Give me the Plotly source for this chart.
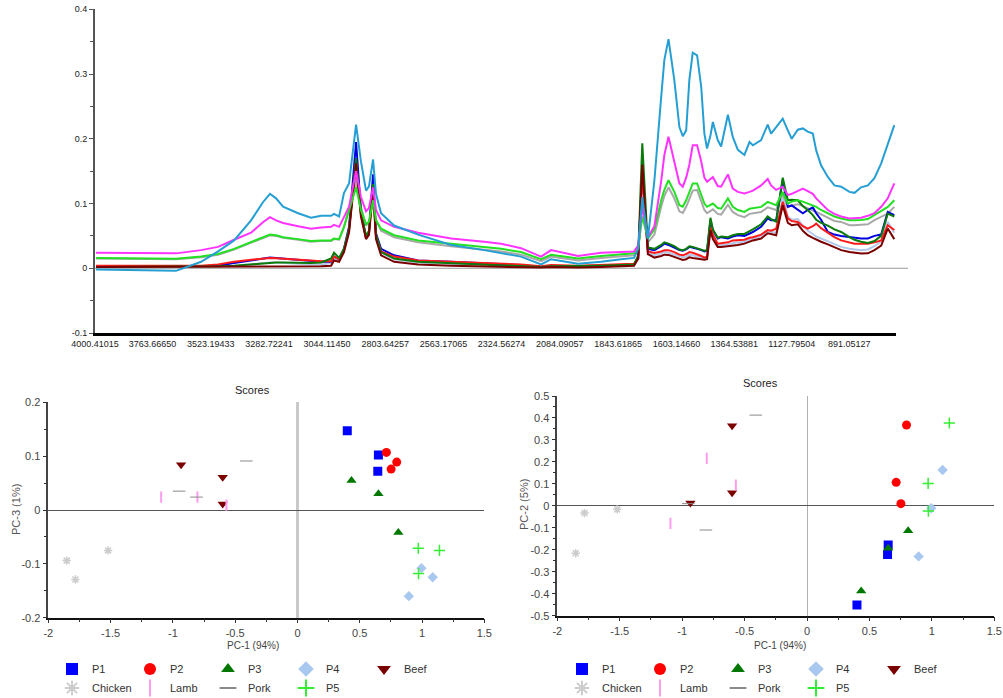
import plotly.graph_objects as go

# ---------------- Spectra (top panel) ----------------
wavenumbers = [3996, 3770, 3666, 3563, 3493, 3427, 3357, 3308, 3279, 3254,
               3225, 3163, 3110, 3068, 3027, 3015, 2994, 2974, 2953, 2924,
               2904, 2883, 2871, 2854, 2842, 2821, 2767, 2668, 2532, 2396,
               2326, 2244, 2161, 2120, 2009, 1914, 1831, 1778, 1761, 1744,
               1721, 1694, 1666, 1653, 1636, 1612, 1591, 1577, 1563, 1550,
               1536, 1518, 1501, 1488, 1477, 1463, 1453, 1433, 1419, 1391,
               1371, 1350, 1323, 1302, 1288, 1254, 1227, 1213, 1192, 1165,
               1144, 1128, 1103, 1082, 1062, 1041, 1027, 1007, 979, 952,
               924, 890, 869, 842, 814, 787, 759, 732, 705]

spec_cyan = [-0.002, -0.003, -0.004, 0.010, 0.026, 0.043, 0.074, 0.102, 0.115, 0.108,
             0.095, 0.085, 0.078, 0.081, 0.081, 0.084, 0.080, 0.116, 0.131, 0.222,
             0.165, 0.120, 0.126, 0.168, 0.115, 0.085, 0.066, 0.052, 0.036, 0.028,
             0.023, 0.018, 0.006, 0.014, 0.007, 0.010, 0.014, 0.016, 0.030, 0.110,
             0.045, 0.136, 0.265, 0.322, 0.354, 0.291, 0.218, 0.204, 0.213, 0.291,
             0.333, 0.329, 0.280, 0.208, 0.185, 0.205, 0.226, 0.198, 0.188, 0.237,
             0.203, 0.183, 0.175, 0.195, 0.190, 0.198, 0.222, 0.208, 0.218, 0.231,
             0.213, 0.200, 0.214, 0.216, 0.211, 0.208, 0.182, 0.159, 0.141, 0.128,
             0.126, 0.118, 0.1165, 0.125, 0.128, 0.139, 0.162, 0.190, 0.221]

spec_magenta = [0.024, 0.023, 0.023, 0.028, 0.033, 0.044, 0.055, 0.071, 0.079, 0.074,
                0.070, 0.065, 0.061, 0.063, 0.064, 0.067, 0.064, 0.079, 0.095, 0.150,
                0.110, 0.088, 0.093, 0.125, 0.090, 0.074, 0.064, 0.055, 0.046, 0.041,
                0.038, 0.031, 0.018, 0.028, 0.019, 0.024, 0.025, 0.026, 0.035, 0.095,
                0.048, 0.065, 0.135, 0.175, 0.203, 0.167, 0.131, 0.126, 0.140, 0.160,
                0.190, 0.190, 0.165, 0.140, 0.1335, 0.138, 0.141, 0.127, 0.126, 0.145,
                0.123, 0.118, 0.1155, 0.118, 0.120, 0.128, 0.138, 0.128, 0.121, 0.126,
                0.113, 0.115, 0.120, 0.123, 0.119, 0.115, 0.108, 0.100, 0.090, 0.084,
                0.080, 0.077, 0.077, 0.078, 0.081, 0.085, 0.095, 0.108, 0.131]

spec_lime = [0.016, 0.015, 0.0145, 0.018, 0.022, 0.030, 0.040, 0.047, 0.052, 0.051,
             0.048, 0.045, 0.042, 0.043, 0.043, 0.046, 0.045, 0.064, 0.090, 0.125,
             0.090, 0.068, 0.072, 0.105, 0.074, 0.061, 0.051, 0.043, 0.038, 0.033,
             0.030, 0.025, 0.014, 0.021, 0.015, 0.019, 0.021, 0.023, 0.030, 0.080,
             0.046, 0.060, 0.105, 0.121, 0.136, 0.118, 0.0974, 0.095, 0.105, 0.118,
             0.131, 0.131, 0.115, 0.100, 0.095, 0.098, 0.100, 0.093, 0.092, 0.108,
             0.095, 0.090, 0.087, 0.092, 0.093, 0.0948, 0.1025, 0.100, 0.0974, 0.118,
             0.100, 0.103, 0.105, 0.103, 0.100, 0.097, 0.0948, 0.090, 0.0845, 0.080,
             0.0768, 0.0742, 0.0742, 0.0745, 0.076, 0.082, 0.088, 0.0948, 0.105]

spec_grey = [0.015, 0.014, 0.014, 0.017, 0.021, 0.029, 0.039, 0.046, 0.051, 0.050,
             0.047, 0.044, 0.041, 0.042, 0.042, 0.045, 0.044, 0.063, 0.092, 0.135,
             0.095, 0.066, 0.071, 0.110, 0.075, 0.058, 0.048, 0.040, 0.034, 0.029,
             0.026, 0.021, 0.011, 0.018, 0.012, 0.016, 0.018, 0.020, 0.028, 0.100,
             0.040, 0.052, 0.095, 0.112, 0.125, 0.108, 0.088, 0.0856, 0.095, 0.108,
             0.120, 0.121, 0.105, 0.090, 0.085, 0.088, 0.091, 0.084, 0.083, 0.098,
             0.087, 0.082, 0.079, 0.084, 0.085, 0.087, 0.094, 0.092, 0.090, 0.115,
             0.094, 0.097, 0.099, 0.096, 0.092, 0.089, 0.087, 0.083, 0.078, 0.073,
             0.0716, 0.0665, 0.0665, 0.067, 0.068, 0.0742, 0.080, 0.0845, 0.0948]

spec_blue = [0.003, 0.003, 0.003, 0.003, 0.004, 0.008, 0.012, 0.015, 0.0165, 0.016,
             0.015, 0.0135, 0.012, 0.010, 0.010, 0.018, 0.014, 0.030, 0.064, 0.195,
             0.090, 0.046, 0.054, 0.145, 0.054, 0.030, 0.020, 0.012, 0.010, 0.008,
             0.007, 0.005, 0.002, 0.004, 0.003, 0.004, 0.005, 0.006, 0.015, 0.152,
             0.030, 0.028, 0.034, 0.038, 0.036, 0.032, 0.028, 0.027, 0.029, 0.033,
             0.032, 0.030, 0.028, 0.026, 0.027, 0.074, 0.059, 0.046, 0.048, 0.046,
             0.049, 0.051, 0.050, 0.054, 0.056, 0.064, 0.077, 0.074, 0.074, 0.136,
             0.095, 0.097, 0.090, 0.085, 0.090, 0.094, 0.085, 0.075, 0.056, 0.052,
             0.050, 0.048, 0.047, 0.046, 0.046, 0.050, 0.052, 0.087, 0.082]

spec_darkgreen = [0.002, 0.002, 0.002, 0.002, 0.003, 0.004, 0.006, 0.008, 0.009, 0.009,
                  0.009, 0.008, 0.008, 0.009, 0.015, 0.024, 0.016, 0.030, 0.060, 0.170,
                  0.085, 0.050, 0.058, 0.130, 0.052, 0.025, 0.015, 0.010, 0.008, 0.006,
                  0.005, 0.004, 0.002, 0.003, 0.003, 0.004, 0.005, 0.006, 0.020, 0.193,
                  0.032, 0.030, 0.036, 0.040, 0.038, 0.034, 0.029, 0.028, 0.030, 0.034,
                  0.033, 0.031, 0.029, 0.027, 0.028, 0.078, 0.060, 0.047, 0.049, 0.048,
                  0.051, 0.053, 0.053, 0.057, 0.060, 0.068, 0.080, 0.076, 0.072, 0.140,
                  0.105, 0.106, 0.105, 0.096, 0.090, 0.082, 0.075, 0.070, 0.066, 0.060,
                  0.056, 0.048, 0.044, 0.041, 0.039, 0.042, 0.050, 0.0845, 0.080]

spec_red = [0.004, 0.004, 0.004, 0.004, 0.006, 0.010, 0.013, 0.015, 0.016, 0.0155,
            0.015, 0.013, 0.012, 0.011, 0.011, 0.018, 0.014, 0.028, 0.060, 0.165,
            0.085, 0.046, 0.052, 0.125, 0.050, 0.026, 0.018, 0.012, 0.010, 0.009,
            0.008, 0.006, 0.003, 0.005, 0.004, 0.005, 0.006, 0.007, 0.015, 0.146,
            0.026, 0.0235, 0.026, 0.028, 0.028, 0.025, 0.021, 0.020, 0.022, 0.025,
            0.024, 0.022, 0.019, 0.0165, 0.018, 0.064, 0.052, 0.038, 0.039, 0.040,
            0.043, 0.043, 0.044, 0.047, 0.048, 0.052, 0.059, 0.058, 0.061, 0.1025,
            0.077, 0.073, 0.0716, 0.065, 0.0613, 0.065, 0.069, 0.062, 0.055, 0.048,
            0.043, 0.040, 0.038, 0.038, 0.038, 0.040, 0.043, 0.0665, 0.059]

spec_maroon = [0.002, 0.002, 0.002, 0.002, 0.002, 0.002, 0.003, 0.003, 0.003, 0.003,
               0.003, 0.003, 0.003, 0.003, 0.004, 0.012, 0.010, 0.025, 0.055, 0.162,
               0.080, 0.045, 0.052, 0.121, 0.045, 0.020, 0.010, 0.006, 0.004, 0.003,
               0.003, 0.002, 0.001, 0.002, 0.001, 0.002, 0.003, 0.004, 0.015, 0.160,
               0.022, 0.0165, 0.019, 0.021, 0.0206, 0.017, 0.014, 0.0129, 0.014, 0.017,
               0.016, 0.015, 0.014, 0.013, 0.014, 0.0588, 0.045, 0.033, 0.033, 0.034,
               0.035, 0.036, 0.038, 0.041, 0.043, 0.046, 0.054, 0.053, 0.051, 0.0974,
               0.070, 0.0665, 0.068, 0.058, 0.051, 0.047, 0.044, 0.041, 0.037, 0.032,
               0.028, 0.0252, 0.024, 0.0227, 0.023, 0.028, 0.035, 0.0613, 0.045]

spec_lightblue = [0.003, 0.003, 0.003, 0.003, 0.003, 0.004, 0.006, 0.008, 0.009, 0.009,
                  0.008, 0.007, 0.006, 0.006, 0.008, 0.016, 0.012, 0.028, 0.062, 0.180,
                  0.088, 0.050, 0.057, 0.140, 0.052, 0.024, 0.014, 0.009, 0.007, 0.006,
                  0.005, 0.004, 0.002, 0.003, 0.002, 0.003, 0.004, 0.005, 0.018, 0.141,
                  0.024, 0.020, 0.023, 0.025, 0.024, 0.021, 0.018, 0.017, 0.018, 0.021,
                  0.020, 0.018, 0.016, 0.015, 0.016, 0.062, 0.049, 0.036, 0.036, 0.037,
                  0.039, 0.040, 0.041, 0.044, 0.046, 0.050, 0.057, 0.056, 0.055, 0.110,
                  0.080, 0.075, 0.076, 0.066, 0.058, 0.053, 0.049, 0.046, 0.042, 0.037,
                  0.033, 0.030, 0.029, 0.028, 0.029, 0.034, 0.042, 0.072, 0.055]

spectrum_ticks = [4000.41015, 3763.66650, 3523.19433, 3282.72241, 3044.11450,
                  2803.64257, 2563.17065, 2324.56274, 2084.09057, 1843.61865,
                  1603.14660, 1364.53881, 1127.79504, 891.05127]

# ---------------- PCA scores ----------------
groups = ["P1", "P2", "P3", "P4", "Beef", "Chicken", "Lamb", "Pork", "P5"]
pc1 = {
    "P1": [0.40, 0.65, 0.645],
    "P2": [0.714, 0.797, 0.752],
    "P3": [0.434, 0.65, 0.81],
    "P4": [0.995, 1.086, 0.894],
    "Beef": [-0.934, -0.60, -0.60],
    "Chicken": [-1.852, -1.52, -1.782],
    "Lamb": [-1.094, -0.803, -0.57],
    "Pork": [-0.95, -0.81, -0.41],
    "P5": [0.97, 1.14, 0.972],
}
pc3 = {
    "P1": [0.147, 0.102, 0.072],
    "P2": [0.107, 0.089, 0.076],
    "P3": [0.055, 0.030, -0.042],
    "P4": [-0.108, -0.125, -0.160],
    "Beef": [0.084, 0.061, 0.011],
    "Chicken": [-0.094, -0.075, -0.129],
    "Lamb": [0.024, 0.024, 0.009],
    "Pork": [0.035, 0.024, 0.091],
    "P5": [-0.071, -0.075, -0.118],
}
pc2 = {
    "P1": [-0.451, -0.178, -0.221],
    "P2": [0.107, 0.368, 0.010],
    "P3": [-0.388, -0.193, -0.113],
    "P4": [-0.011, 0.163, -0.230],
    "Beef": [0.013, 0.365, 0.060],
    "Chicken": [-0.216, -0.016, -0.033],
    "Lamb": [-0.080, 0.216, 0.095],
    "Pork": [0.010, -0.110, 0.413],
    "P5": [0.102, 0.377, -0.024],
}

# ---------------- styles ----------------
FONT = "Liberation Sans, Arial, sans-serif"
spectra = [
    (spec_lightblue, "#b3c9ea"), (spec_grey, "#a8a8a8"), (spec_blue, "#0000e0"),
    (spec_red, "#ff1a1a"), (spec_darkgreen, "#0a7a0a"), (spec_maroon, "#7a0000"),
    (spec_lime, "#22e022"), (spec_magenta, "#ff33ff"), (spec_cyan, "#259fd3"),
]
marker_style = {
    "P1": dict(symbol="square", size=9, color="#0000ff"),
    "P2": dict(symbol="circle", size=9, color="#ff0000"),
    "P3": dict(symbol="triangle-up", size=9, color="#007800"),
    "P4": dict(symbol="diamond", size=8, color="#a9c8ef"),
    "Beef": dict(symbol="triangle-down", size=9, color="#7a0000"),
    "Chicken": dict(symbol="asterisk-open", size=7, color="#cccccc", line=dict(color="#cccccc", width=1.5)),
    "Lamb": dict(symbol="line-ns-open", size=8, color="#ff9cf0", line=dict(color="#ff9cf0", width=2)),
    "Pork": dict(symbol="line-ew-open", size=9, color="#8a8a8a", line=dict(color="#8a8a8a", width=1)),
    "P5": dict(symbol="cross-thin-open", size=8, color="#33ee33", line=dict(color="#33ee33", width=1.5)),
}
row1 = ["P1", "P2", "P3", "P4", "Beef"]

fig = go.Figure()

for vals, col in spectra:
    fig.add_trace(go.Scatter(x=wavenumbers, y=vals, mode="lines", xaxis="x", yaxis="y",
                             line=dict(color=col, width=2), showlegend=False, hoverinfo="skip"))

for g in groups:
    fig.add_trace(go.Scatter(x=pc1[g], y=pc3[g], mode="markers", name=g, xaxis="x2", yaxis="y2",
                             marker=marker_style[g],
                             legend="legend" if g in row1 else "legend2"))
for g in groups:
    fig.add_trace(go.Scatter(x=pc1[g], y=pc2[g], mode="markers", name=g, xaxis="x3", yaxis="y3",
                             marker=marker_style[g],
                             legend="legend3" if g in row1 else "legend4"))

# body margin is removed by the post script, so the figure fills the window
W, H = 1003, 698
def px_x(p):
    return p / W
def px_y(p):
    return 1 - p / H

tickfont_small = dict(family=FONT, size=9, color="#222")
tickfont = dict(family=FONT, size=11, color="#444")

def num_txt(v):
    return f"{v:g}"

pc_x_ticks = [-2, -1.5, -1, -0.5, 0, 0.5, 1, 1.5]
pc3_ticks = [-0.2, -0.1, 0, 0.1, 0.2]
pc2_ticks = [-0.5, -0.4, -0.3, -0.2, -0.1, 0, 0.1, 0.2, 0.3, 0.4, 0.5]
spec_y_ticks = [-0.1, 0, 0.1, 0.2, 0.3, 0.4]

def score_x(domain, zl_color, zl_width):
    return dict(domain=domain, range=[-2, 1.5], tickvals=pc_x_ticks,
                ticktext=[num_txt(v) for v in pc_x_ticks], tickfont=tickfont,
                ticks="outside", ticklen=4, tickcolor="#333",
                minor=dict(dtick=0.25, tick0=0, ticks="outside", ticklen=3, tickcolor="#333"),
                showline=True, linecolor="#111", linewidth=1.5, showgrid=False,
                zeroline=True, zerolinecolor=zl_color, zerolinewidth=zl_width, automargin=False)

def score_y(domain, anchor, rng, tv):
    return dict(domain=domain, anchor=anchor, range=rng, tickvals=tv,
                ticktext=[num_txt(v) for v in tv], tickfont=tickfont,
                ticks="outside", ticklen=4, tickcolor="#333",
                minor=dict(dtick=0.05, tick0=0, ticks="outside", ticklen=3, tickcolor="#333"),
                showline=True, linecolor="#444", linewidth=1.5, showgrid=False,
                zeroline=True, zerolinecolor="#555", zerolinewidth=1, automargin=False)

def legend_at(xpx, ypx):
    return dict(orientation="h", x=px_x(xpx), y=px_y(ypx), xanchor="left", yanchor="middle",
                entrywidth=33, entrywidthmode="pixels", itemsizing="constant",
                font=dict(family=FONT, size=11, color="#333"), bgcolor="rgba(0,0,0,0)",
                tracegroupgap=0)

def note(text, xp, yp, size, color, angle=0):
    return dict(text=text, x=px_x(xp), y=px_y(yp), xref="paper", yref="paper", showarrow=False,
                xanchor="center", yanchor="middle", textangle=angle,
                font=dict(family=FONT, size=size, color=color))

fig.update_layout(
    width=W, height=H, margin=dict(l=0, r=0, t=0, b=0, pad=0, autoexpand=False),
    paper_bgcolor="white", plot_bgcolor="white",
    font=dict(family=FONT),
    xaxis=dict(domain=[px_x(95), px_x(896)], range=[4000.41, 698], anchor="y",
               tickvals=spectrum_ticks, ticktext=[f"{v:.5f}" for v in spectrum_ticks],
               tickfont=tickfont_small, ticks="", showline=True, linecolor="#000",
               linewidth=3, showgrid=False, zeroline=False, automargin=False),
    yaxis=dict(domain=[px_y(333), px_y(9.3)], range=[-0.1, 0.4], anchor="x",
               tickvals=spec_y_ticks, ticktext=[num_txt(v) for v in spec_y_ticks],
               tickfont=tickfont_small, ticks="outside", ticklen=4, tickcolor="#555",
               minor=dict(dtick=0.05, tick0=0, ticks="outside", ticklen=3, tickcolor="#555"),
               showline=True, linecolor="#555", linewidth=2, showgrid=False, zeroline=False,
               automargin=False),
    xaxis2=dict(anchor="y2", **score_x([px_x(48.3), px_x(484.3)], "#c9c9c9", 2.5)),
    yaxis2=score_y([px_y(617.7), px_y(402.3)], "x2", [-0.2, 0.2], pc3_ticks),
    xaxis3=dict(anchor="y3", **score_x([px_x(557.3), px_x(994.3)], "#b0b0b0", 1.2)),
    yaxis3=score_y([px_y(615.7), px_y(396)], "x3", [-0.5, 0.5], pc2_ticks),
    legend=legend_at(52, 669),
    legend2=legend_at(52, 688),
    legend3=legend_at(562, 669),
    legend4=legend_at(562, 688),
    shapes=[dict(type="line", xref="paper", yref="y", x0=px_x(95), x1=px_x(908), y0=0, y1=0,
                 line=dict(color="#999", width=1), layer="below")],
    annotations=[
        note("Scores", 252, 390, 11, "#222"),
        note("Scores", 760, 383, 11, "#222"),
        note("PC-1 (94%)", 253, 645, 10, "#444"),
        note("PC-1 (94%)", 780, 645, 10, "#444"),
        note("PC-3 (1%)", 16, 509, 11, "#555", -90),
        note("PC-2 (5%)", 524, 505, 11, "#555", -90),
    ],
)

fig.write_html("out.html", config={"displayModeBar": False},
               post_script="document.body.style.margin='0';document.body.style.overflow='hidden';")
